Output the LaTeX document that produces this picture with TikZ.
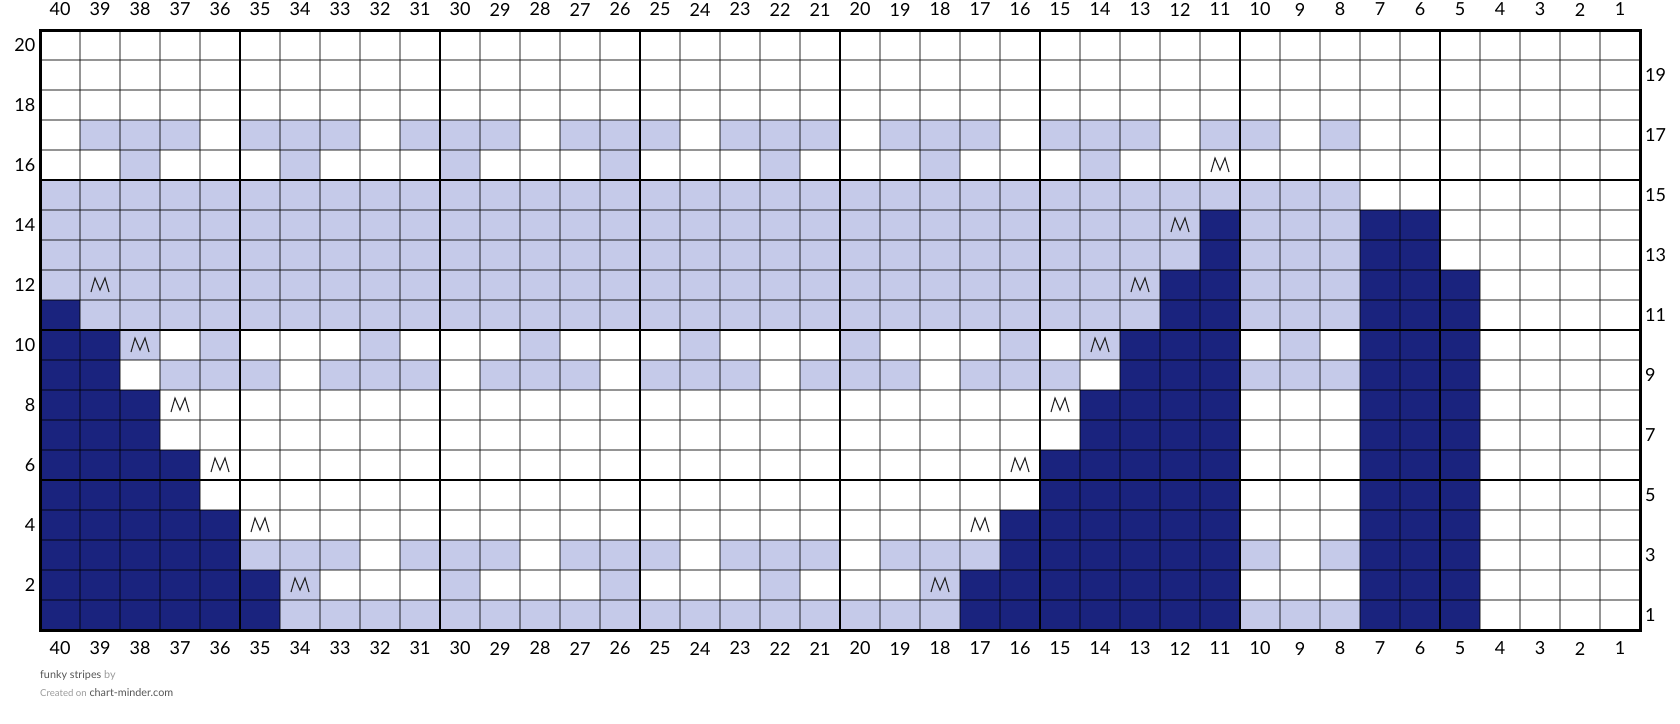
\documentclass[tikz,border=0pt]{standalone}
\usepackage{fontspec}
\setmainfont{Lato}
\definecolor{navy}{HTML}{1A237E}
\definecolor{lav}{HTML}{C5CAE9}
\definecolor{darktxt}{HTML}{555555}
\definecolor{lighttxt}{HTML}{9A9A9A}
\tikzset{
  lightcell/.style={fill=lav},
  darkcell/.style={fill=navy},
  thingrid/.style={draw=black, draw opacity=0.42, line width=1.1pt},
  thickgrid/.style={draw=black, line width=2.2pt},
  border/.style={draw=black, line width=3pt},
  numlabel/.style={font=\fontsize{18}{20}\selectfont, text=black, inner sep=0pt},
  mmark/.style={draw=black!85, line width=1.1pt, line join=miter},
  footer/.style={font=\fontsize{10.8}{12}\selectfont, inner sep=0pt, anchor=base west}
}
\begin{document}
\begin{tikzpicture}[x=1pt,y=-1pt]
\useasboundingbox (0,0) rectangle (1680,723);
% light runs: row/from col/to col
\foreach \r/\a/\b in {
 17/39/37,17/35/33,17/31/29,17/27/25,17/23/21,17/19/17,17/15/13,17/11/10,17/8/8,
 16/38/38,16/34/34,16/30/30,16/26/26,16/22/22,16/18/18,16/14/14,
 15/40/8,
 14/40/12,14/10/8,
 13/40/12,13/10/8,
 12/40/13,12/10/8,
 11/39/13,11/10/8,
 10/38/38,10/36/36,10/32/32,10/28/28,10/24/24,10/20/20,10/16/16,10/14/14,10/9/9,
 9/37/35,9/33/31,9/29/27,9/25/23,9/21/19,9/17/15,9/10/8,
 3/35/33,3/31/29,3/27/25,3/23/21,3/19/17,3/10/10,3/8/8,
 2/34/34,2/30/30,2/26/26,2/22/22,2/18/18,
 1/34/18,1/10/8}
 { \path[lightcell] ({1640-40*\a},{630-30*\r}) rectangle ({1680-40*\b},{660-30*\r}); }
% dark runs
\foreach \r/\a/\b in {
 14/11/11,14/7/6,
 13/11/11,13/7/6,
 12/12/11,12/7/5,
 11/40/40,11/12/11,11/7/5,
 10/40/39,10/13/11,10/7/5,
 9/40/39,9/13/11,9/7/5,
 8/40/38,8/14/11,8/7/5,
 7/40/38,7/14/11,7/7/5,
 6/40/37,6/15/11,6/7/5,
 5/40/37,5/15/11,5/7/5,
 4/40/36,4/16/11,4/7/5,
 3/40/36,3/16/11,3/7/5,
 2/40/35,2/17/11,2/7/5,
 1/40/35,1/17/11,1/7/5}
 { \path[darkcell] ({1640-40*\a},{630-30*\r}) rectangle ({1680-40*\b},{660-30*\r}); }
% thin grid
\foreach \i in {1,...,39} { \draw[thingrid] ({40+40*\i},30) -- ({40+40*\i},630); }
\foreach \j in {1,...,19} { \draw[thingrid] (40,{30+30*\j}) -- (1640,{30+30*\j}); }
% thick grid
\foreach \i in {1,...,7} { \draw[thickgrid] ({40+200*\i},30) -- ({40+200*\i},630); }
\foreach \j in {1,2,3} { \draw[thickgrid] (40,{30+150*\j}) -- (1640,{30+150*\j}); }
\draw[border] (40,30) rectangle (1640,630);
% M markers: row/col
\foreach \r/\c in {16/11,14/12,12/39,12/13,10/38,10/14,8/37,8/15,6/36,6/16,4/35,4/17,2/34,2/18}
 { \draw[mmark] ({1651-40*\c},{652-30*\r}) -- ({1655-40*\c},{638-30*\r}) -- ({1660-40*\c},{650-30*\r}) -- ({1665-40*\c},{638-30*\r}) -- ({1669-40*\c},{652-30*\r}); }
% column labels
\foreach \c in {1,...,40} {
  \node[numlabel] (top\c) at ({1660-40*\c},9.5) {\c};
  \node[numlabel] (bot\c) at ({1660-40*\c},648.5) {\c};
}
% row labels
\foreach \r in {2,4,...,20} { \node[numlabel, anchor=east] (left\r) at (35.5,{645-30*\r}) {\r}; }
\foreach \r in {1,3,...,19} { \node[numlabel, anchor=west] (right\r) at (1645,{645-30*\r}) {\r}; }
% footer
\node[footer] (title) at (40,678.5) {\textcolor{darktxt}{funky stripes} \textcolor{lighttxt}{by}};
\node[footer] (credit) at (40,696.5) {\textcolor{lighttxt}{\fontsize{9.6}{11}\selectfont Created on} \textcolor{darktxt}{chart-minder.com}};
\end{tikzpicture}
\end{document}
